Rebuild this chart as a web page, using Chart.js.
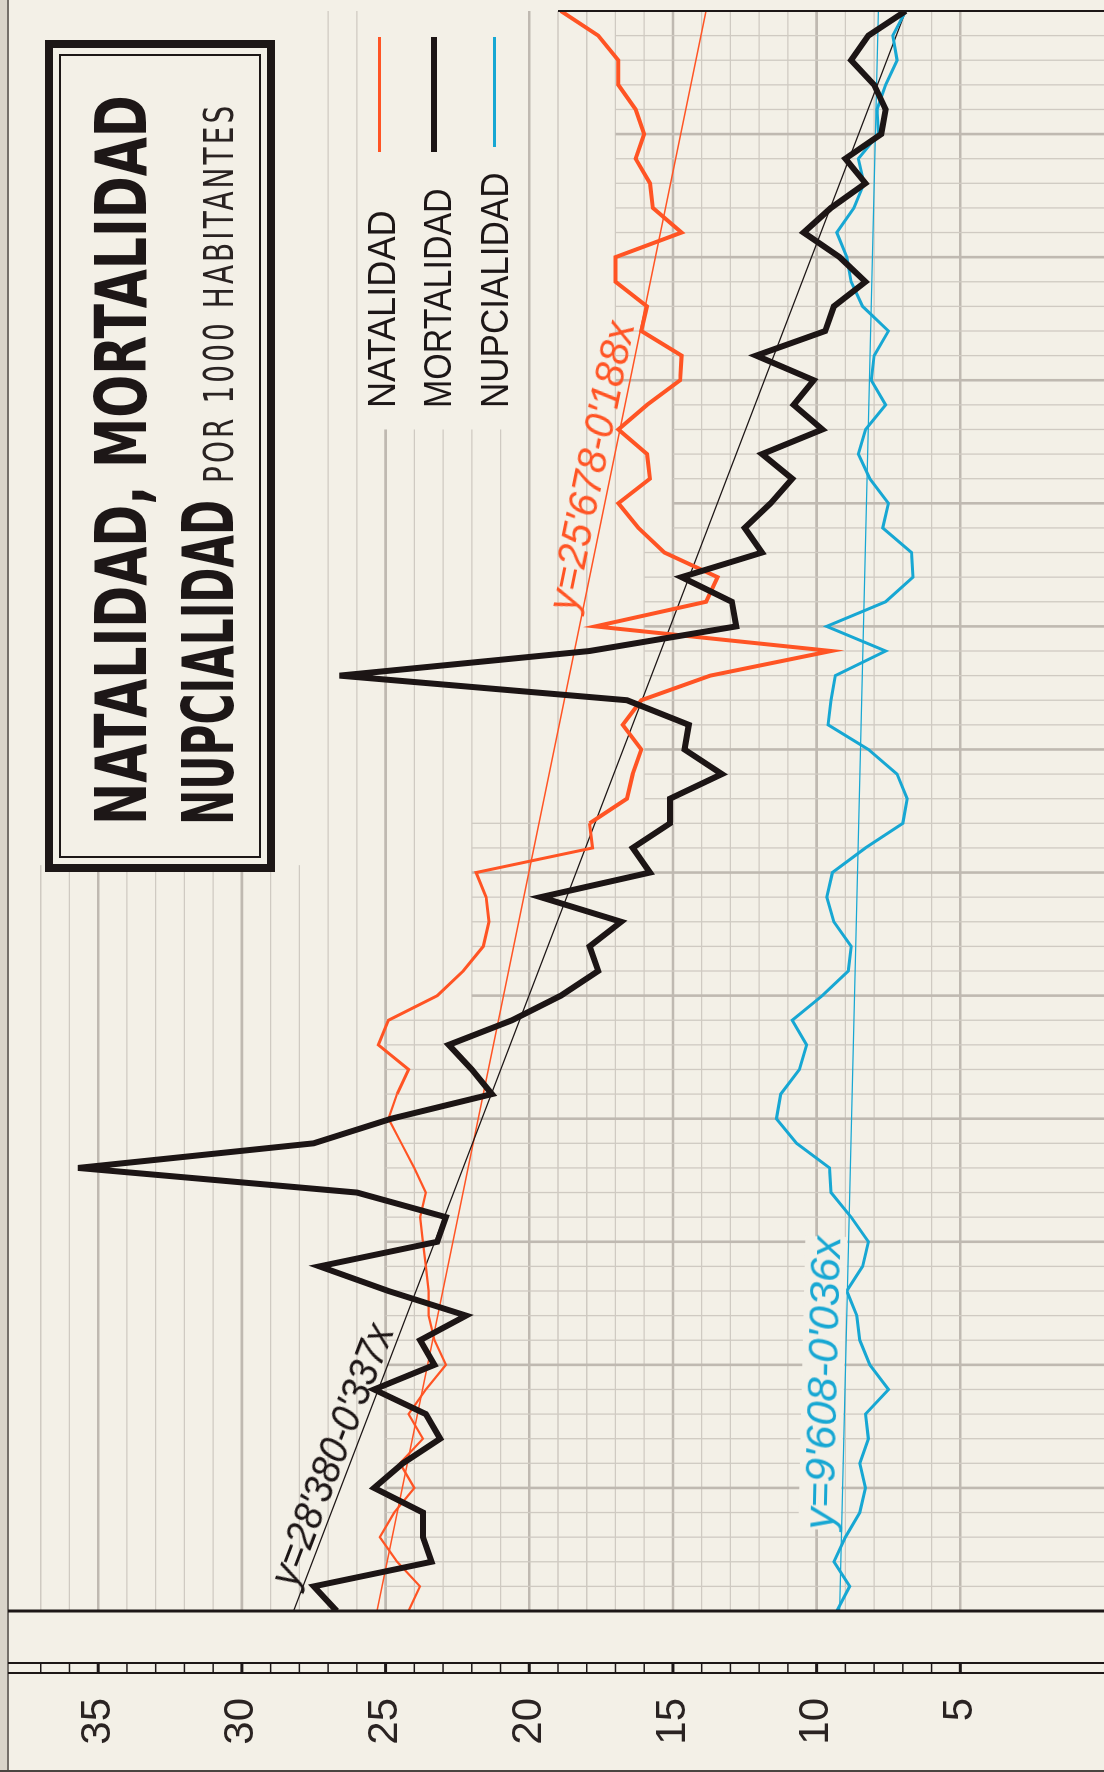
<!DOCTYPE html>
<html lang="es">
<head>
<meta charset="utf-8">
<title>Natalidad, mortalidad, nupcialidad por 1000 habitantes</title>
<script src="https://cdn.jsdelivr.net/npm/chart.js@4.4.1/dist/chart.umd.min.js"></script>
<style>
  html, body { margin: 0; padding: 0; overflow: hidden; }
  body { width: 1104px; height: 1772px; position: relative; background: #f3f0e7; }
  /* the whole sheet is drawn lying down and turned a quarter to the left */
  #hoja { position: absolute; left: 0; top: 0; width: 1772px; height: 1104px;
          transform-origin: 0 0; transform: translate(0, 1772px) rotate(-90deg); }
  #grafico { position: absolute; left: 0; top: 0; }
  .abs { position: absolute; white-space: nowrap; line-height: 1; transform-origin: 0 0; }
  #caja { position: absolute; left: 900px; top: 45px; width: 832px; height: 230px;
          box-sizing: border-box; border: 8px solid #1d1717; }
  #caja::after { content: ""; position: absolute; left: 6px; top: 6px; right: 6px; bottom: 6px;
                 border: 2px solid #1d1717; }
  .titulo { font-family: "Liberation Sans Narrow", "DejaVu Sans Condensed", "Liberation Sans", sans-serif;
            font-weight: bold; font-size: 72px; color: #1d1717; }
  .sub { font-family: "Liberation Sans Narrow", "DejaVu Sans Condensed", "Liberation Sans", sans-serif;
         font-size: 40px; color: #2a2322; letter-spacing: 4px; }
  .leyenda { font-family: "Liberation Sans", Arial, sans-serif; font-size: 38px; color: #1d1717; }
  .marca { position: absolute; }
  .recta { font-family: "Liberation Sans", Arial, sans-serif; font-style: italic; font-size: 42px; }
</style>
</head>
<body>
<div id="hoja">
  <canvas id="grafico" width="1772" height="1104"></canvas>

  <div id="caja"></div>
  <div id="t1" class="abs titulo" style="left:947px; top:84.6px;">NATALIDAD, MORTALIDAD</div>
  <div id="t2" class="abs titulo" style="left:947px; top:171.5px;">NUPCIALIDAD</div>
  <div id="t3" class="abs sub" style="left:1289px; top:199px;">POR 1000 HABITANTES</div>

  <div class="marca" style="left:1620px; top:377.5px; width:115px; height:3px; background:#ff5424;"></div>
  <div class="marca" style="left:1620px; top:431px; width:115px; height:6px; background:#1c1515;"></div>
  <div class="marca" style="left:1625px; top:492.5px; width:110px; height:3px; background:#17a7d3;"></div>
  <div id="l1" class="abs leyenda" style="left:1364px; top:362.5px;">NATALIDAD</div>
  <div id="l2" class="abs leyenda" style="left:1364px; top:418.5px;">MORTALIDAD</div>
  <div id="l3" class="abs leyenda" style="left:1364px; top:475.5px;">NUPCIALIDAD</div>

  <div id="rMort" class="abs recta" style="color:#1c1515;">y=28'380-0'337x</div>
  <div id="rNat" class="abs recta" style="color:#ff5424;">y=25'678-0'188x</div>
  <div id="rNup" class="abs recta" style="color:#17a7d3; background:#f3f0e7;">y=9'608-0'036x</div>
</div>

<script>
// years counted from the first one of the series (x of the fitted lines)
const anos = [0, 1, 2, 3, 4, 5, 6, 7, 8, 9, 10, 11, 12, 13, 14, 15, 16, 17, 18, 19, 20,
  21, 22, 23, 24, 25, 26, 27, 28, 29, 30, 31, 32, 33, 34, 35, 36, 37, 38, 39, 40,
  41, 42, 43, 44, 45, 46, 47, 48, 49, 50, 51, 52, 53, 54, 55, 56, 57, 58, 59, 60,
  61, 62, 63, 64, 65];

const natalidad = [24.2, 23.8, 24.6, 25.2, 24.7, 24.0, 24.5, 23.7, 24.2, 23.6, 22.9,
  23.3, 23.5, 23.5, 23.6, 23.7, 23.8, 23.6, 24.0, 24.45, 24.9,
  24.6, 24.2, 25.25, 24.9, 23.2, 22.3, 21.6, 21.4, 21.5, 21.85,
  17.8, 17.9, 16.6, 16.4, 16.1, 16.75, 16.1, 13.7, 9.5, 17.7,
  13.85, 13.45, 15.3, 16.2, 16.9, 15.8, 15.9, 16.9, 15.9, 14.75,
  14.7, 16.1, 15.9, 17.0, 17.0, 14.7, 15.7, 15.8, 16.3, 16.0,
  16.3, 16.9, 16.9, 17.6, 18.9];

const mortalidad = [26.7, 27.5, 23.4, 23.7, 23.7, 25.4, 24.4, 23.1, 23.6, 25.4, 23.3,
  23.8, 22.2, 24.9, 27.3, 23.2, 22.9, 26.0, 35.7, 27.5, 24.8,
  21.3, 22.0, 22.8, 20.6, 18.9, 17.6, 17.9, 16.8, 19.6, 15.8,
  16.4, 15.1, 15.1, 13.3, 14.6, 14.45, 16.6, 26.6, 17.9, 12.8,
  12.95, 14.7, 11.9, 12.5, 11.6, 10.85, 11.9, 9.8, 10.8, 10.1,
  12.1, 9.7, 9.4, 8.3, 9.2, 10.45, 9.5, 8.3, 9.0, 7.75,
  7.6, 8.0, 8.8, 8.2, 6.9];

const nupcialidad = [9.3, 8.85, 9.4, 9.0, 8.5, 8.3, 8.5, 8.2, 8.3, 7.5, 8.15,
  8.5, 8.6, 8.95, 8.4, 8.2, 8.8, 9.5, 9.55, 10.7, 11.4,
  11.25, 10.6, 10.35, 10.85, 9.8, 8.9, 8.8, 9.4, 9.65, 9.45,
  8.3, 7.0, 6.85, 7.2, 8.2, 9.6, 9.5, 9.35, 7.6, 9.65,
  7.6, 6.65, 6.7, 7.7, 7.5, 8.15, 8.55, 8.3, 7.6, 8.1,
  8.0, 7.5, 8.4, 8.8, 8.95, 9.3, 8.7, 8.35, 8.55, 7.85,
  7.9, 7.6, 7.2, 7.35, 6.9];

// fitted straight lines, ends as drawn
const anosTendencia = [0, 65];
const tendNatalidad = [25.3, 13.85];
const tendMortalidad = [28.2, 6.9];
const tendNupcialidad = [9.2, 7.85];

const valoresEje = [5, 10, 15, 20, 25, 30, 35];

const colores = {
  natalidad: '#ff5424',
  mortalidad: '#1c1515',
  nupcialidad: '#17a7d3',
  tinta: '#1d1717',
  gris: '#cfcac2',
  grisFuerte: '#bfb9b1'
};

// where the graph paper is printed: [first value, last value, last year] and [first year, last year, first value]
const tramosValor = [[5, 20, 65], [21, 25, 48], [26, 27, 65], [28, 37, 30.3]];
const tramosTiempo = [[1, 24, 25], [25, 32, 22], [33, 43, 16], [44, 49, 15], [50, 64, 17]];

const puntos = (xs, ys) => ys.map((v, i) => ({ x: xs[i], y: v }));

function trazo(ctx, x1, y1, x2, y2, ancho, color) {
  ctx.beginPath();
  ctx.lineWidth = ancho;
  ctx.strokeStyle = color;
  ctx.moveTo(x1, y1);
  ctx.lineTo(x2, y2);
  ctx.stroke();
}

const papel = {
  id: 'papel',
  beforeDatasetsDraw(chart) {
    const { ctx, scales: { x, y } } = chart;
    ctx.save();
    ctx.fillStyle = '#d9d4ca';
    ctx.fillRect(0, 0, chart.width, 7);
    tramosValor.forEach(([desde, hasta, ultimo]) => {
      for (let v = desde; v <= hasta; v++) {
        const py = y.getPixelForValue(v);
        const mayor = v % 5 === 0;
        trazo(ctx, x.getPixelForValue(0), py, x.getPixelForValue(ultimo), py,
          mayor ? 2.6 : 1.3, mayor ? colores.grisFuerte : colores.gris);
      }
    });
    tramosTiempo.forEach(([desde, hasta, inicio]) => {
      for (let k = desde; k <= hasta; k++) {
        const px = x.getPixelForValue(k);
        const mayor = k % 5 === 0;
        trazo(ctx, px, y.getPixelForValue(inicio), px, chart.height,
          mayor ? 2.6 : 1.3, mayor ? colores.grisFuerte : colores.gris);
      }
    });
    ctx.restore();
  }
};

const marco = {
  id: 'marco',
  afterDatasetsDraw(chart) {
    const { ctx, chartArea: a, scales: { y } } = chart;
    ctx.save();
    trazo(ctx, 0, 8, chart.width, 8, 1.5, '#4a4440');
    trazo(ctx, a.left, 8, a.left, chart.height, 3, colores.tinta);
    trazo(ctx, a.right, y.getPixelForValue(19), a.right, chart.height, 2, colores.tinta);
    // ruler under the value labels
    trazo(ctx, a.left - 52, 8, a.left - 52, chart.height, 2, colores.tinta);
    trazo(ctx, a.left - 62, 8, a.left - 62, chart.height, 2, colores.tinta);
    for (let v = 5; v <= 37; v++) {
      const py = y.getPixelForValue(v);
      trazo(ctx, a.left - 62, py, a.left - 52, py, v % 5 === 0 ? 3 : 1.5, colores.tinta);
    }
    trazo(ctx, 1, 0, 1, chart.height, 2, '#4a4440');
    ctx.restore();
  }
};

const ctx = document.getElementById('grafico').getContext('2d');

const chart = new Chart(ctx, {
  type: 'line',
  data: {
    datasets: [
      { label: 'MORTALIDAD', data: puntos(anos, mortalidad), borderColor: colores.mortalidad,
        borderWidth: 6, pointRadius: 0, tension: 0, borderJoinStyle: 'miter' },
      { label: 'NATALIDAD', data: puntos(anos, natalidad), borderColor: colores.natalidad,
        borderWidth: 3, pointRadius: 0, tension: 0, borderJoinStyle: 'miter',
        segment: { borderWidth: c => c.p0DataIndex < 21 ? 2.2 : (c.p0DataIndex < 32 ? 3 : 4) } },
      { label: 'NUPCIALIDAD', data: puntos(anos, nupcialidad), borderColor: colores.nupcialidad,
        borderWidth: 3, pointRadius: 0, tension: 0, borderJoinStyle: 'miter' },
      { label: 'tendencia mortalidad', data: puntos(anosTendencia, tendMortalidad),
        borderColor: colores.mortalidad, borderWidth: 1.4, pointRadius: 0 },
      { label: 'tendencia natalidad', data: puntos(anosTendencia, tendNatalidad),
        borderColor: colores.natalidad, borderWidth: 1.4, pointRadius: 0 },
      { label: 'tendencia nupcialidad', data: puntos(anosTendencia, tendNupcialidad),
        borderColor: colores.nupcialidad, borderWidth: 1.4, pointRadius: 0 }
    ]
  },
  options: {
    responsive: false,
    devicePixelRatio: 1,
    animation: false,
    layout: { padding: { left: 0, right: 11, top: 12, bottom: 0 } },
    plugins: { legend: { display: false }, tooltip: { enabled: false } },
    scales: {
      x: { type: 'linear', min: 0, max: 65, display: false },
      y: {
        min: 0, max: 38,
        afterFit: s => { s.width = 161; s.paddingTop = 0; s.paddingBottom = 0; },
        // the gap between labels and plot comes from an invisible tick mark, not label padding
        grid: { display: true, drawOnChartArea: false, drawTicks: true, tickLength: 87, tickColor: 'rgba(0,0,0,0)' },
        border: { display: false },
        ticks: {
          stepSize: 5,
          padding: 0,
          color: '#2a2322',
          font: { family: '"Liberation Sans Narrow", "Liberation Sans", Arial, sans-serif', size: 42 },
          callback: v => valoresEje.includes(v) ? String(v) : null
        }
      }
    }
  },
  plugins: [papel, marco]
});

function ajustarAncho(id, ancho) {
  const el = document.getElementById(id);
  el.style.transform = `scaleX(${ancho / el.offsetWidth})`;
}
ajustarAncho('t1', 730);
ajustarAncho('t2', 325);
ajustarAncho('t3', 380);
ajustarAncho('l1', 198);
ajustarAncho('l2', 220);
ajustarAncho('l3', 236);

// lettering of each fitted line, laid along it
function etiquetar(id, indice, k1, k2, separacion) {
  const el = document.getElementById(id);
  const [p0, p1] = chart.getDatasetMeta(indice).data;
  const tramo = anosTendencia[1] - anosTendencia[0];
  const t1 = (k1 - anosTendencia[0]) / tramo;
  const t2 = (k2 - anosTendencia[0]) / tramo;
  const dx = p1.x - p0.x, dy = p1.y - p0.y;
  const largo = Math.hypot(dx, dy) * (t2 - t1);
  const ang = Math.atan2(dy, dx);
  const f = parseFloat(getComputedStyle(el).fontSize);
  el.style.left = (p0.x + dx * t1) + 'px';
  el.style.top = (p0.y + dy * t1) + 'px';
  el.style.transform = `rotate(${ang}rad) translate(0, ${-(0.85 * f + separacion)}px) scaleX(${largo / el.offsetWidth})`;
}
etiquetar('rMort', 3, 0.8, 11.3, 5);
etiquetar('rNat', 4, 40.5, 52.2, 6);
etiquetar('rNup', 5, 3.3, 15.2, 8);
</script>
</body>
</html>
